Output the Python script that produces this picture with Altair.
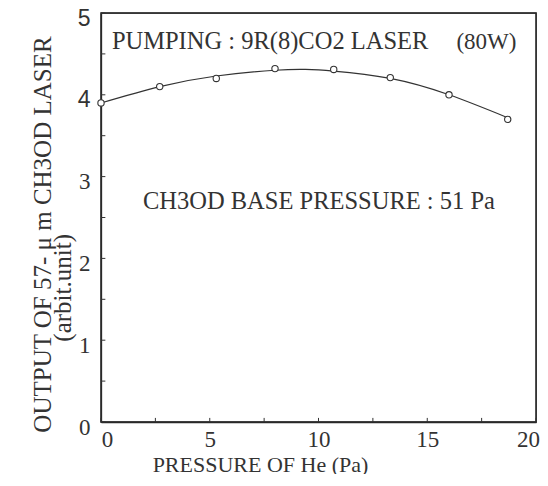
import altair as alt
import pandas as pd

# measured points
pressure = [0, 2.7, 5.3, 8.0, 10.7, 13.3, 16.0, 18.7]
output = [3.90, 4.10, 4.20, 4.32, 4.31, 4.21, 4.00, 3.70]

# fitted curve
curve_x = [0, 2.7, 5.3, 8.0, 9.4, 10.7, 13.3, 16.0, 18.7]
curve_y = [3.90, 4.10, 4.23, 4.30, 4.31, 4.29, 4.20, 4.00, 3.72]

x_labels = [0, 5, 10, 15, 20]
x_minor = [0, 2.5, 5, 7.5, 10, 12.5, 15, 17.5, 20]
y_labels = [0, 1, 2, 3, 4, 5]
y_minor = [0, 0.5, 1, 1.5, 2, 2.5, 3, 3.5, 4, 4.5, 5]

left_text = ["PUMPING : 9R(8)CO2 LASER", "CH3OD BASE PRESSURE : 51 Pa"]
left_x = [0.5, 1.93]
left_y = [4.65, 2.69]
right_text = ["(80W)"]
right_x = [19.1]
right_y = [4.65]
sub_title = ["(arbit.unit)"]
sub_x = [-1.75]
sub_y = [1.64]

FONT = "Liberation Serif"
INK = "#333333"
EDGE = "#2a2a2a"

xs = alt.Scale(domain=[0, 20], nice=False)
ys = alt.Scale(domain=[0, 5], nice=False)

pts = pd.DataFrame({"p": pressure, "o": output})
crv = pd.DataFrame({"p": curve_x, "o": curve_y})

x_axis = alt.Axis(values=x_labels, format="d", ticks=False, domain=True,
                  domainColor=EDGE, domainWidth=1.3, grid=False,
                  labelFont=FONT, labelFontSize=23, labelColor=INK, labelPadding=6,
                  labelFlush=False,
                  labelOffset={"condition": [{"test": "datum.value == 0", "value": 6},
                                             {"test": "datum.value == 20", "value": -8}],
                               "value": 0},
                  title="PRESSURE OF He (Pa)", titleFont=FONT, titleFontSize=22,
                  titleFontWeight="normal", titleColor=INK,
                  titleX=159, titleY=42, titleBaseline="middle", titleAlign="center")
y_axis = alt.Axis(values=y_labels, format="d", ticks=False, domain=True,
                  domainColor=EDGE, domainWidth=1.3, grid=False,
                  labelFont={"condition": {"test": "datum.value >= 4", "value": "Liberation Sans"},
                             "value": FONT},
                  labelFontSize=23, labelColor=INK, labelPadding=11, labelOffset=5,
                  labelFlush=False,
                  title="OUTPUT OF 57- μ m CH3OD LASER", titleFont=FONT, titleFontSize=25,
                  titleFontWeight="normal", titleColor=INK, titleAngle=270,
                  titleX=-59, titleY=221, titleBaseline="middle", titleAlign="center")


def X(f):
    return alt.X(f, scale=xs, axis=x_axis)


def Y(f):
    return alt.Y(f, scale=ys, axis=y_axis)


frame = alt.Chart(pd.DataFrame({"p": [0], "p2": [20], "o": [0], "o2": [5]})).mark_rect(
    filled=False, color=EDGE, strokeWidth=1.3, opacity=1).encode(
    x=X("p:Q"), x2="p2:Q", y=Y("o:Q"), y2="o2:Q")

line = alt.Chart(crv).mark_line(interpolate="natural", color=INK, strokeWidth=1.2).encode(
    x=X("p:Q"), y=Y("o:Q"))

points = alt.Chart(pts).mark_point(shape="circle", filled=False, fill="white", fillOpacity=1,
                                   color=INK, size=40, strokeWidth=1.1, opacity=1).encode(
    x=X("p:Q"), y=Y("o:Q"))

xt = alt.Chart(pd.DataFrame({"p": x_minor})).mark_rule(color=INK, strokeWidth=1).encode(
    x=X("p:Q"),
    y=alt.datum(0),
    y2=alt.datum(0.05),
)
yt = alt.Chart(pd.DataFrame({"o": y_minor})).mark_rule(color=INK, strokeWidth=1).encode(
    y=Y("o:Q"),
    x=alt.datum(0),
    x2=alt.datum(0.2),
)

lt = alt.Chart(pd.DataFrame({"t": left_text, "p": left_x, "o": left_y})).mark_text(
    align="left", baseline="middle", font=FONT, fontSize=24.5, color=INK).encode(
    x=X("p:Q"), y=Y("o:Q"), text="t:N")
rt = alt.Chart(pd.DataFrame({"t": right_text, "p": right_x, "o": right_y})).mark_text(
    align="right", baseline="middle", font=FONT, fontSize=23, color=INK).encode(
    x=X("p:Q"), y=Y("o:Q"), text="t:N")
st = alt.Chart(pd.DataFrame({"t": sub_title, "p": sub_x, "o": sub_y})).mark_text(
    align="center", baseline="middle", font=FONT, fontSize=25, color=INK, angle=270,
    clip=False).encode(
    x=X("p:Q"), y=Y("o:Q"), text="t:N")

chart = alt.layer(frame, line, xt, yt, points, lt, rt, st).properties(
    width=435, height=409,
    background="white",
    autosize=alt.AutoSizeParams(type="none"),
    padding={"left": 93, "top": 5, "right": 4, "bottom": 52},
).configure_view(stroke=EDGE, strokeWidth=1.3)

chart.save("out.html", embed_options={"renderer": "svg", "actions": False})
